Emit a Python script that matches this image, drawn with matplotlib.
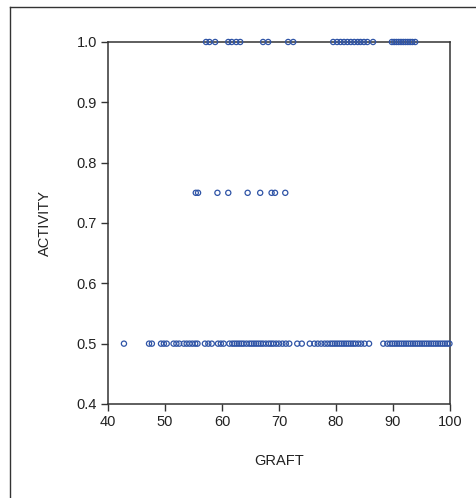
import matplotlib
matplotlib.use('Agg')
import matplotlib.pyplot as plt
from matplotlib.lines import Line2D

plt.rcParams['font.family'] = ['Liberation Sans', 'DejaVu Sans']

# GRAFT values at each ACTIVITY level
graft_100 = [57.2, 57.8, 58.8, 61.1, 61.7, 62.5, 63.2, 67.2, 68.1, 71.6, 72.5,
             79.5, 80.2, 80.8, 81.4, 82.0, 82.6, 83.2, 83.8, 84.3, 84.9, 85.5,
             86.5, 89.8, 90.2, 90.6, 91.0, 91.4, 91.8, 92.2, 92.6, 93.0, 93.4,
             93.9]
graft_075 = [55.4, 55.8, 59.2, 61.1, 64.5, 66.7, 68.7, 69.3, 71.1]
graft_050 = [42.8, 47.2, 47.7, 49.3, 49.8, 50.3, 51.5, 52.0, 52.5, 53.3, 53.8,
             54.3, 54.8, 55.3, 55.7, 57.0, 57.6, 58.2, 59.3, 59.8, 60.3, 61.3,
             61.8, 62.2, 62.6, 63.0, 63.4, 63.8, 64.3, 64.8, 65.2, 65.6, 66.0,
             66.4, 66.8, 67.2, 67.7, 68.2, 68.6, 69.0, 69.5, 70.0, 70.6, 71.2,
             71.8, 73.2, 74.0, 75.4, 76.2, 76.8, 77.4, 78.0, 78.5, 79.0, 79.4,
             79.8, 80.2, 80.6, 81.0, 81.4, 81.8, 82.2, 82.6, 83.0, 83.4, 83.9,
             84.4, 85.0, 85.8, 88.3, 89.0, 89.5, 89.9, 90.3, 90.7, 91.1, 91.5,
             91.9, 92.3, 92.7, 93.1, 93.5, 93.9, 94.3, 94.7, 95.1, 95.5, 95.9,
             96.3, 96.7, 97.1, 97.5, 97.9, 98.3, 98.7, 99.1, 99.5, 99.9]
levels = [1.0, 0.75, 0.5]
groups = [graft_100, graft_075, graft_050]

x_ticks = [40, 50, 60, 70, 80, 90, 100]
y_ticks = [0.4, 0.5, 0.6, 0.7, 0.8, 0.9, 1.0]

BLUE = '#2f54a6'
DARK = '#333333'

fig = plt.figure(figsize=(4.77, 4.98), dpi=100)
ax = fig.add_axes([0.2264, 0.1888, 0.717, 0.7269])

for lvl, xs in zip(levels, groups):
    ax.scatter(xs, [lvl] * len(xs), s=14, facecolors='none', edgecolors=BLUE,
               linewidths=0.9, clip_on=False, zorder=3)

ax.set_xlim(40, 100)
ax.set_ylim(0.4, 1.0)
ax.set_xticks(x_ticks)
ax.set_yticks(y_ticks)
ax.set_xticklabels([str(t) for t in x_ticks])
ax.set_yticklabels([f'{t:.1f}' for t in y_ticks])
ax.tick_params(direction='out', length=5, width=1, color=DARK,
               labelsize=10.5, labelcolor='#222222', pad=3)
for sp in ax.spines.values():
    sp.set_color(DARK)
    sp.set_linewidth(1.1)

ax.set_xlabel('GRAFT', fontsize=10.5, color='#222222', labelpad=18)
ax.set_ylabel('ACTIVITY', fontsize=10.5, color='#222222', labelpad=18)

# outer frame (top and left edges)
fig.add_artist(Line2D([10 / 477, 1.0], [1 - 7 / 498, 1 - 7 / 498],
                      color=DARK, linewidth=1.0, transform=fig.transFigure))
fig.add_artist(Line2D([10 / 477, 10 / 477], [0.0, 1 - 7 / 498],
                      color=DARK, linewidth=1.0, transform=fig.transFigure))

fig.savefig('out.png', dpi=100)
